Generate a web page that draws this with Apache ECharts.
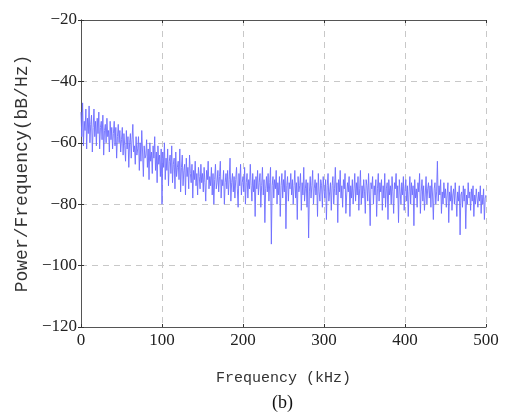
<!DOCTYPE html>
<html>
<head>
<meta charset="utf-8">
<script src="https://cdn.jsdelivr.net/npm/echarts@6/dist/echarts.min.js"></script>
<style>
html,body{margin:0;padding:0;background:#fff;}
#chart{width:506px;height:415px;}
</style>
</head>
<body>
<div id="chart"></div>
<script>
// Frequency step of the spectrum samples (kHz)
var freqStartKHz = 0;
var freqStepKHz = 1;
// Power spectral density values (dB/Hz), one per sample
var psdValues = [
-50,-58,-47,-61,-53,-56,-49,-62,-52,-57,
-48,-60,-54,-51,-63,-55,-49,-58,-53,-61,
-52,-57,-50,-62,-55,-53,-59,-51,-64,-56,
-54,-60,-52,-58,-56,-63,-53,-59,-55,-62,
-57,-53,-61,-55,-65,-58,-54,-60,-56,-63,
-59,-55,-64,-57,-61,-66,-56,-62,-58,-68,
-60,-57,-65,-59,-54,-63,-61,-67,-58,-64,
-62,-58,-69,-60,-66,-56,-63,-71,-61,-65,
-64,-59,-68,-62,-72,-60,-66,-63,-70,-61,
-65,-58,-69,-63,-73,-61,-67,-64,-71,-62,
-80,-63,-68,-60,-72,-65,-69,-62,-74,-66,
-64,-70,-61,-73,-67,-65,-75,-63,-71,-68,
-66,-72,-62,-76,-68,-64,-74,-69,-67,-77,
-65,-71,-68,-75,-64,-70,-73,-67,-78,-69,
-72,-66,-74,-70,-77,-68,-71,-75,-67,-73,
-70,-76,-68,-73,-79,-69,-72,-66,-75,-71,
-74,-68,-77,-70,-80,-72,-67,-75,-73,-69,
-76,-71,-66,-78,-72,-74,-69,-80,-73,-70,
-75,-69,-77,-72,-65,-79,-73,-70,-76,-71,
-78,-72,-68,-75,-81,-70,-74,-67,-77,-73,
-71,-76,-68,-80,-73,-70,-78,-72,-75,-67,
-74,-79,-70,-76,-72,-84,-71,-75,-69,-77,
-73,-70,-81,-74,-68,-77,-72,-86,-75,-71,
-76,-70,-79,-73,-68,-93,-74,-71,-78,-72,
-75,-69,-80,-73,-77,-71,-84,-74,-70,-78,
-72,-76,-69,-88,-74,-71,-79,-73,-75,-70,
-77,-72,-80,-74,-69,-78,-73,-85,-71,-76,
-74,-70,-82,-73,-77,-68,-79,-75,-72,-81,
-73,-91,-76,-71,-78,-74,-69,-80,-75,-72,
-77,-73,-84,-70,-76,-79,-72,-74,-81,-71,
-75,-78,-72,-85,-74,-70,-79,-76,-73,-82,
-74,-71,-80,-75,-68,-77,-73,-86,-72,-76,
-69,-78,-74,-81,-72,-75,-70,-83,-77,-73,
-76,-71,-84,-74,-78,-72,-80,-75,-70,-79,
-73,-77,-71,-82,-75,-69,-80,-74,-78,-72,
-76,-83,-72,-74,-79,-70,-77,-87,-73,-75,
-71,-80,-74,-77,-72,-84,-75,-70,-79,-73,
-76,-72,-82,-74,-78,-70,-81,-75,-73,-85,
-72,-77,-74,-80,-71,-76,-83,-73,-75,-70,
-78,-74,-86,-72,-76,-80,-73,-77,-71,-82,
-75,-72,-79,-74,-84,-76,-71,-80,-73,-77,
-74,-87,-72,-78,-75,-81,-73,-76,-70,-83,
-76,-72,-79,-74,-82,-77,-71,-80,-75,-73,
-78,-74,-81,-72,-77,-85,-75,-73,-80,-76,
-66,-79,-74,-77,-72,-83,-76,-80,-73,-78,
-75,-81,-77,-73,-86,-76,-79,-74,-82,-77,
-75,-80,-73,-78,-84,-76,-79,-74,-90,-77,
-76,-81,-74,-79,-75,-88,-77,-80,-73,-78,
-76,-82,-75,-79,-74,-84,-77,-80,-75,-78,
-81,-76,-79,-74,-83,-77,-80,-75,-85,-78,
-77
];
// Axis tick values
var xTicks = [0, 100, 200, 300, 400, 500];
var yTicks = [-120, -100, -80, -60, -40, -20];
var xTitle = 'Frequency (kHz)';
var yTitle = 'Power/Frequency(bB/Hz)';
var caption = '(b)';

var seriesData = psdValues.map(function (v, i) { return [freqStartKHz + i * freqStepKHz, v]; });

var tickFont = {fontFamily: 'Liberation Serif', fontSize: 17, color: '#222'};
var gridLine = {show: true, lineStyle: {color: '#c8c8c8', type: [6, 5], width: 1}};
var axisLineStyle = {show: true, lineStyle: {color: '#555', width: 1}};

var chart = echarts.init(document.getElementById('chart'), null, {renderer: 'canvas'});
chart.setOption({
  animation: false,
  backgroundColor: '#fff',
  grid: {left: 81, right: 20, top: 20, bottom: 88, containLabel: false},
  xAxis: [{
    type: 'value', position: 'bottom',
    min: xTicks[0], max: xTicks[xTicks.length - 1], interval: 100,
    axisLine: axisLineStyle,
    axisTick: {show: true, inside: true, length: 3, lineStyle: {color: '#333'}},
    axisLabel: Object.assign({margin: 5}, tickFont),
    splitLine: gridLine,
    name: xTitle, nameLocation: 'middle', nameGap: 44,
    nameTextStyle: {fontFamily: 'Liberation Mono', fontSize: 15, color: '#333'}
  }, {
    type: 'value', position: 'top',
    min: xTicks[0], max: xTicks[xTicks.length - 1], interval: 100,
    axisLine: axisLineStyle,
    axisTick: {show: true, inside: true, length: 3, lineStyle: {color: '#333'}},
    axisLabel: {show: false}, splitLine: {show: false}
  }],
  yAxis: [{
    type: 'value', position: 'left',
    min: yTicks[0], max: yTicks[yTicks.length - 1], interval: 20,
    axisLine: axisLineStyle,
    axisTick: {show: true, inside: true, length: 3, lineStyle: {color: '#333'}},
    axisLabel: Object.assign({margin: 4, formatter: function (v) { return String(v).replace('-', '\u2212'); }}, tickFont),
    splitLine: gridLine,
    name: yTitle, nameLocation: 'middle', nameGap: 47, nameRotate: 90,
    nameTextStyle: {fontFamily: 'Liberation Mono', fontSize: 18, color: '#333'}
  }, {
    type: 'value', position: 'right',
    min: yTicks[0], max: yTicks[yTicks.length - 1], interval: 20,
    axisLine: axisLineStyle,
    axisTick: {show: true, inside: true, length: 3, lineStyle: {color: '#333'}},
    axisLabel: {show: false}, splitLine: {show: false}
  }],
  graphic: [{
    type: 'text', left: 272, top: 394,
    style: {text: caption, fontFamily: 'Liberation Serif', fontSize: 18, fill: '#111'}
  }],
  series: [{
    type: 'line', xAxisIndex: 0, yAxisIndex: 0,
    data: seriesData, showSymbol: false, symbol: 'none',
    lineStyle: {color: '#6c6cff', width: 0.9},
    silent: true
  }]
});
</script>
</body>
</html>
